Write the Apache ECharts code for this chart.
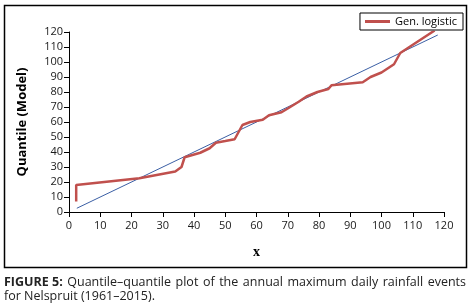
<!DOCTYPE html>
<html>
<head>
<meta charset="utf-8">
<script src="https://cdn.jsdelivr.net/npm/echarts@6/dist/echarts.min.js"></script>
<style>
html, body { margin: 0; padding: 0; background: #fff; }
#main { width: 474px; height: 307px; }
</style>
</head>
<body>
<div id="main"></div>
<script>
// 数据
var seriesName = 'Gen. logistic';
var obsX = [2.3, 2.3, 22.5, 34, 36, 37, 42, 45, 47, 50, 53, 55.5, 58, 62, 64, 68, 70, 73.5, 76, 79.5, 83, 84, 94, 96.5, 100, 104, 106, 117];
var modelY = [7, 18, 22.5, 27, 30, 36.5, 39.5, 42.5, 46.2, 47.3, 48.5, 58, 60, 61.5, 64.5, 66.5, 69, 73.5, 77, 80, 82, 84.5, 86.5, 90, 93, 98.5, 106, 121];
var refX = [2.5, 118];
var refY = [2.5, 118];
var xTicks = [0, 10, 20, 30, 40, 50, 60, 70, 80, 90, 100, 110, 120];
var yTicks = [0, 10, 20, 30, 40, 50, 60, 70, 80, 90, 100, 110, 120];
var captionBold = 'FIGURE 5:';
var captionLine1 = 'Quantile\u2013quantile plot of the annual maximum daily rainfall events';
var captionLine2 = 'for Nelspruit (1961\u20132015).';

function pairs(xs, ys) {
    var out = [];
    for (var i = 0; i < xs.length; i++) out.push([xs[i], ys[i]]);
    return out;
}

// 标题第一行两端对齐
var capSize = 12.5;
var capLeft = 4, capRight = 466;
var ctx = document.createElement('canvas').getContext('2d');
function measure(txt, bold) {
    ctx.font = (bold ? 'bold ' : '') + capSize + 'px "Open Sans"';
    return ctx.measureText(txt).width;
}
var words = [{ t: captionBold, b: true }].concat(captionLine1.split(' ').map(function (w) { return { t: w, b: false }; }));
var total = 0;
words.forEach(function (w) { w.w = measure(w.t, w.b); total += w.w; });
var gap = (capRight - capLeft - total) / (words.length - 1);
var captionGraphics = [];
var cx = capLeft;
words.forEach(function (w) {
    captionGraphics.push({
        type: 'text', x: cx, y: 276,
        style: {
            text: w.t, fill: '#222',
            font: (w.b ? 'bold ' : '') + capSize + 'px "Open Sans"'
        }
    });
    cx += w.w + gap;
});
captionGraphics.push({
    type: 'text', x: capLeft, y: 290,
    style: { text: captionLine2, font: capSize + 'px "Open Sans"', fill: '#222' }
});

var chart = echarts.init(document.getElementById('main'));
var tickFont = { fontFamily: 'Open Sans', fontSize: 11, color: '#1a1a1a' };

var option = {
    animation: false,
    backgroundColor: '#fff',
    grid: { left: 69, right: 30, top: 32, bottom: 95 },
    legend: {
        right: 11, top: 13,
        data: [seriesName],
        icon: 'rect', itemWidth: 25, itemHeight: 3,
        borderColor: '#000', borderWidth: 1,
        padding: [3, 6, 3, 5],
        itemGap: 5,
        textStyle: { fontFamily: 'Open Sans', fontSize: 11, color: '#000' }
    },
    xAxis: {
        type: 'value', min: 0, max: 120, interval: 10,
        name: 'x', nameLocation: 'middle', nameGap: 33,
        nameTextStyle: { fontFamily: 'Liberation Serif', fontWeight: 'bold', fontSize: 14, color: '#000' },
        axisLine: { lineStyle: { color: '#000', width: 1 } },
        axisTick: { show: true, length: 5, lineStyle: { color: '#000' } },
        axisLabel: Object.assign({ margin: 8, formatter: function (v) { return xTicks.indexOf(v) >= 0 ? v : ''; } }, tickFont),
        splitLine: { show: false }
    },
    yAxis: {
        type: 'value', min: 0, max: 120, interval: 10,
        name: 'Quantile (Model)', nameLocation: 'middle', nameGap: 40,
        nameTextStyle: { fontFamily: 'Open Sans', fontWeight: 'bold', fontSize: 13, color: '#000' },
        axisLine: { show: true, lineStyle: { color: '#000', width: 1 } },
        axisTick: { show: true, length: 5, lineStyle: { color: '#000' } },
        axisLabel: Object.assign({ margin: 6, formatter: function (v) { return yTicks.indexOf(v) >= 0 ? v : ''; } }, tickFont),
        splitLine: { show: false }
    },
    series: [
        {
            name: 'ref', type: 'line', data: pairs(refX, refY),
            symbol: 'none', silent: true,
            lineStyle: { color: '#3b5fa5', width: 1 }
        },
        {
            name: seriesName, type: 'line', data: pairs(obsX, modelY),
            symbol: 'none', itemStyle: { color: '#c0504d' },
            lineStyle: { color: '#c0504d', width: 2.5 }
        }
    ],
    graphic: [
        {
            type: 'rect', shape: { x: 4.5, y: 5.5, width: 462, height: 262 },
            style: { fill: null, stroke: '#000', lineWidth: 1.5 }, z: 100
        }
    ].concat(captionGraphics)
};
chart.setOption(option);
</script>
</body>
</html>
